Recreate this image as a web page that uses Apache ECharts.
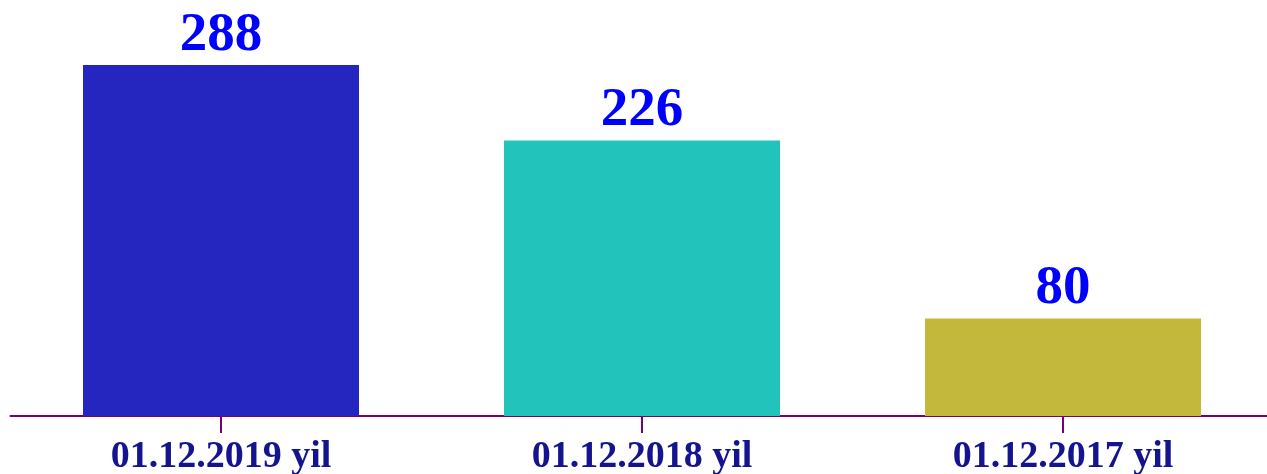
<!DOCTYPE html>
<html>
<head>
<meta charset="utf-8">
<script src="https://cdn.jsdelivr.net/npm/echarts@6/dist/echarts.min.js"></script>
<style>
  html, body { margin: 0; padding: 0; background: #ffffff; }
  #chart { width: 1267px; height: 474px; }
</style>
</head>
<body>
<div id="chart"></div>
<script>
// Dates shown on the axis and the count for each
const categories = ['01.12.2019 yil', '01.12.2018 yil', '01.12.2017 yil'];
const values = [288, 226, 80];
const barColors = ['#2525c0', '#22c3bb', '#c3b83c'];

const chart = echarts.init(document.getElementById('chart'));

chart.setOption({
  animation: false,
  grid: { left: 10.5, width: 1263, top: 50.4, bottom: 58, outerBoundsMode: 'none', containLabel: false },
  xAxis: {
    type: 'category',
    data: categories,
    axisLine: { lineStyle: { color: '#7a0070', width: 2 } },
    axisTick: { show: true, alignWithLabel: true, length: 17, lineStyle: { color: '#7a0070', width: 2 } },
    axisLabel: {
      margin: 22,
      color: '#14148e',
      fontFamily: 'Liberation Serif',
      fontWeight: 'bold',
      fontSize: 38
    }
  },
  yAxis: {
    type: 'value',
    min: 0,
    max: 300,
    show: false,
    splitLine: { show: false }
  },
  series: [{
    type: 'bar',
    barWidth: 276,
    data: values.map((v, i) => ({ value: v, itemStyle: { color: barColors[i] } })),
    label: {
      show: true,
      position: 'top',
      distance: 2,
      color: '#0000ff',
      fontFamily: 'Liberation Serif',
      fontWeight: 'bold',
      fontSize: 55
    }
  }]
});
</script>
</body>
</html>
